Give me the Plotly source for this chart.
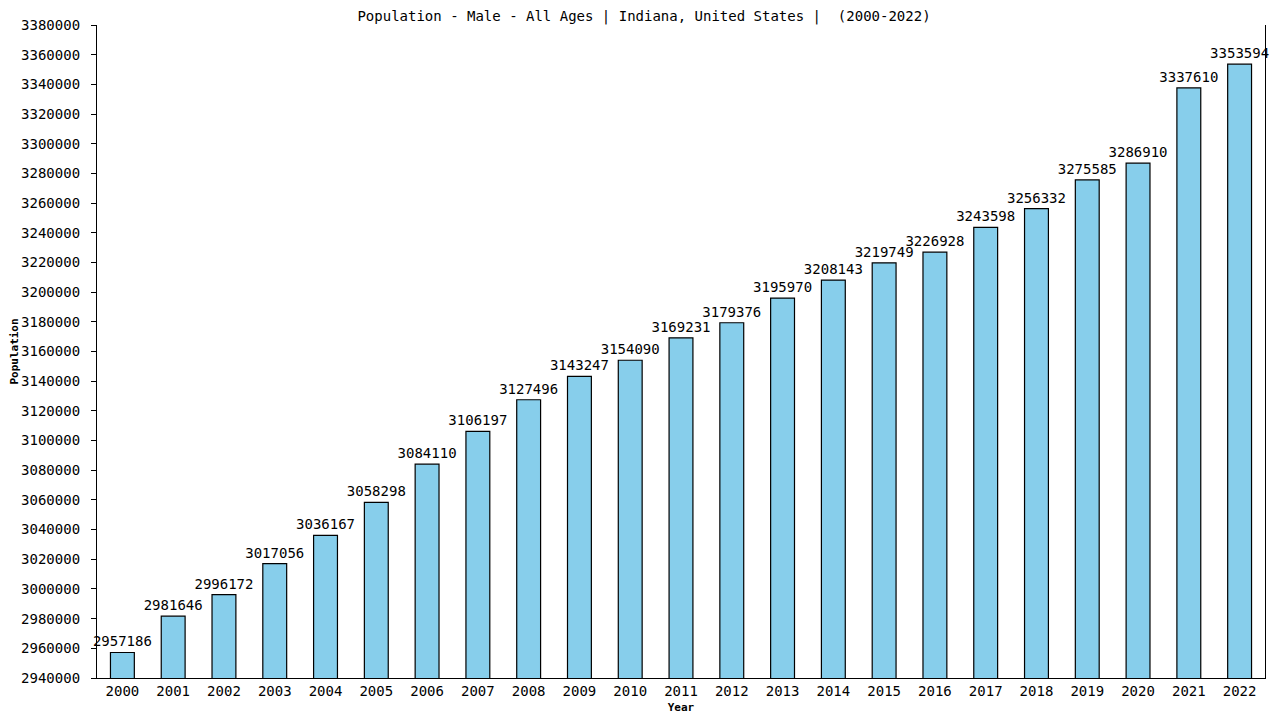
import plotly.graph_objects as go

years = [str(y) for y in range(2000, 2023)]
population = [2957186, 2981646, 2996172, 3017056, 3036167, 3058298, 3084110, 3106197,
              3127496, 3143247, 3154090, 3169231, 3179376, 3195970, 3208143, 3219749,
              3226928, 3243598, 3256332, 3275585, 3286910, 3337610, 3353594]
y_ticks = list(range(2940000, 3380001, 20000))

FONT = "DejaVu Sans Mono"

fig = go.Figure(go.Bar(
    x=years, y=population, width=0.47,
    marker=dict(color="#87CEEB", line=dict(color="black", width=1.2)),
    text=[str(v) for v in population], textposition="outside",
    constraintext="none",
    textfont=dict(family=FONT, size=14, color="black"),
    cliponaxis=False,
))

# page body has an 8px margin, so the figure is 8px smaller and top/left margins shifted
fig.update_layout(
    width=1272, height=712,
    paper_bgcolor="white", plot_bgcolor="white",
    margin=dict(l=89, r=15, t=17, b=42, autoexpand=False),
    title=dict(text="Population - Male - All Ages | Indiana, United States |  (2000-2022)",
               x=0.5, xanchor="center", y=0.988, yanchor="middle",
               font=dict(family=FONT, size=14, color="black")),
    font=dict(family=FONT, color="black"),
    showlegend=False,
    bargap=0.5,
)
fig.update_xaxes(
    type="category", range=[-0.5, 22.5], automargin=False,
    showline=True, linecolor="black", linewidth=1.2,
    ticks="", ticklabelstandoff=0,
    tickfont=dict(family=FONT, size=14),
    title=dict(text="<b>Year</b>", font=dict(family=FONT, size=11), standoff=5),
    showgrid=False,
)
fig.update_yaxes(
    range=[2940000, 3380000], tickvals=y_ticks, ticktext=[str(v) for v in y_ticks],
    automargin=False,
    showline=True, linecolor="black", linewidth=1.2, mirror=True,
    ticks="outside", ticklen=5, tickcolor="black", ticklabelstandoff=8,
    tickfont=dict(family=FONT, size=14),
    title=dict(text="<b>Population</b>", font=dict(family=FONT, size=11), standoff=4),
    showgrid=False, zeroline=False,
)

fig.write_html("out.html")
